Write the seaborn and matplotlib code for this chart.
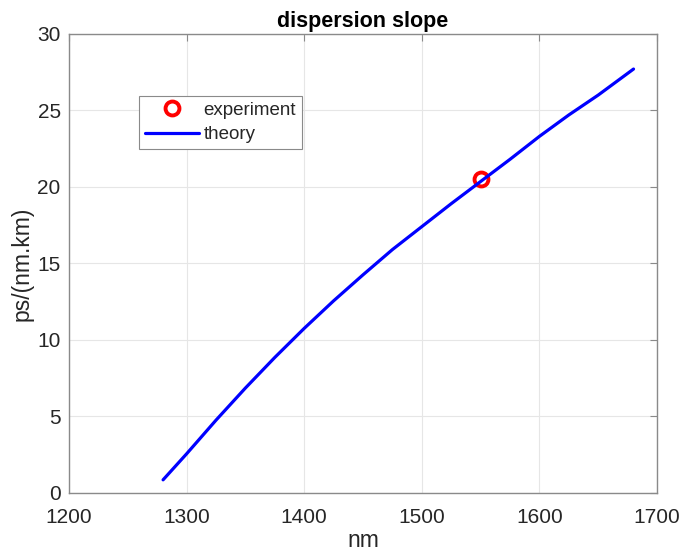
import matplotlib
matplotlib.use("Agg")
import matplotlib.pyplot as plt
import seaborn as sns

# dispersion slope vs wavelength
wavelength_nm = [1280, 1300, 1325, 1350, 1375, 1400, 1425, 1450, 1475,
                 1500, 1525, 1550, 1575, 1600, 1625, 1650, 1680]
slope_theory = [0.85, 2.55, 4.75, 6.85, 8.85, 10.75, 12.55, 14.25, 15.9,
                17.4, 18.9, 20.35, 21.8, 23.3, 24.7, 26.0, 27.7]

exp_wavelength = [1550]
exp_slope = [20.5]

sns.set_style("white")
plt.rcParams['font.family'] = ['Liberation Sans', 'DejaVu Sans']

fig = plt.figure(figsize=(6.83, 5.55), dpi=100)
ax = fig.add_axes([0.101, 0.112, 0.861, 0.827])

# experiment point first so it comes first in the legend
sns.lineplot(x=exp_wavelength, y=exp_slope, ax=ax, marker='o', linestyle='none',
             markersize=10, markerfacecolor='none', markeredgecolor='red',
             markeredgewidth=2.8, label='experiment')
sns.lineplot(x=wavelength_nm, y=slope_theory, ax=ax, color='blue',
             linewidth=2.3, label='theory')

ax.set_xlim(1200, 1700)
ax.set_ylim(0, 30)
ax.set_xticks([1200, 1300, 1400, 1500, 1600, 1700])
ax.set_yticks([0, 5, 10, 15, 20, 25, 30])
ax.grid(True, color='#e6e6e6', linewidth=0.8)
ax.set_axisbelow(True)

for s in ax.spines.values():
    s.set_color('#8a8a8a')
    s.set_linewidth(1.0)
ax.tick_params(direction='in', length=5, width=0.8, color='#8a8a8a',
               top=True, right=True, labelsize=15, labelcolor='#262626')
ax.tick_params(axis='x', pad=11)
ax.tick_params(axis='y', pad=6)

ax.set_xlabel('nm', fontsize=16.5, color='#262626', labelpad=1)
ax.set_ylabel('ps/(nm.km)', fontsize=16.5, color='#262626', labelpad=3)
ax.set_title('dispersion slope', fontsize=15.5, fontweight='bold', color='black', pad=5)

leg = ax.legend(loc='upper left', bbox_to_anchor=(0.119, 0.865), borderaxespad=0,
                fontsize=13.5, fancybox=False, framealpha=1, edgecolor='#8a8a8a',
                handlelength=2.9, handletextpad=0.25, borderpad=0.3,
                labelspacing=0.4)
leg.get_frame().set_linewidth(0.8)
for t in leg.get_texts():
    t.set_color('#262626')

fig.savefig('out.png', dpi=100)
